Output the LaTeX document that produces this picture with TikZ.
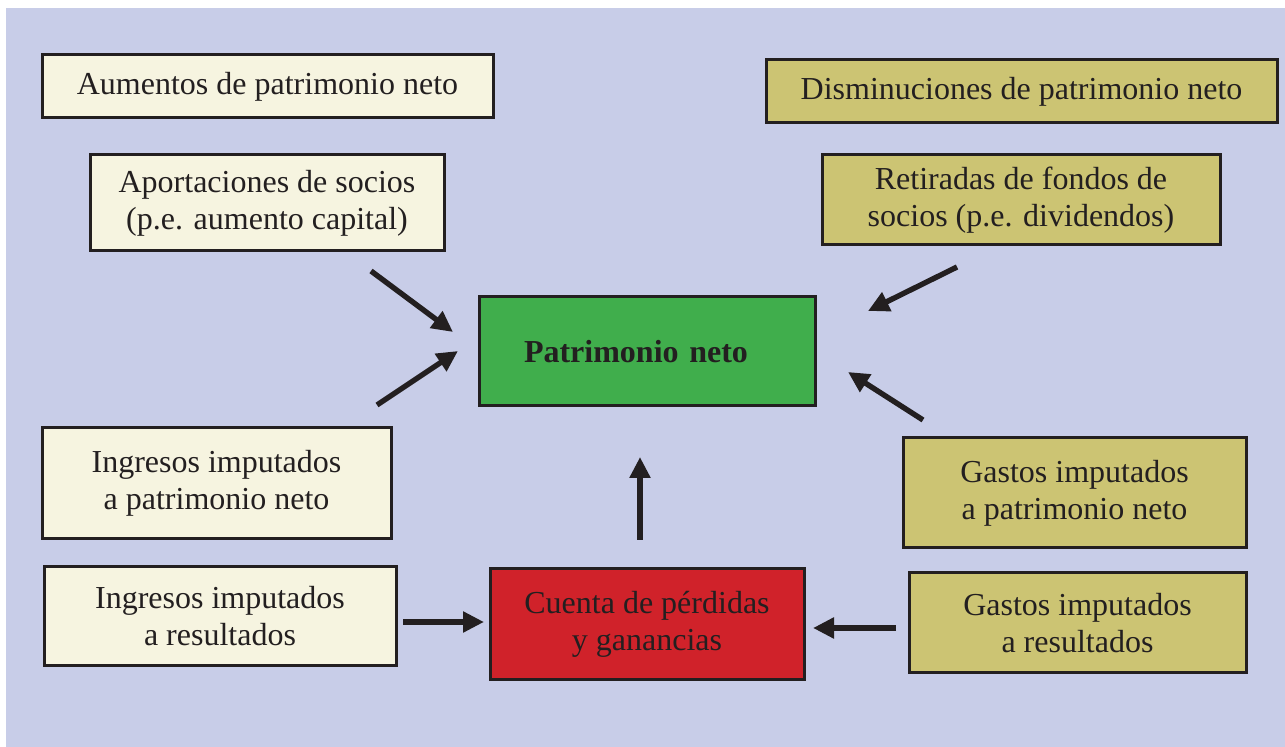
\documentclass[tikz,border=0pt]{standalone}
\usepackage{fontspec}
\setmainfont{Liberation Serif}
\usepackage{xcolor}
\usetikzlibrary{arrows.meta,positioning}
\definecolor{fondo}{RGB}{200,205,232}
\definecolor{crema}{RGB}{246,244,224}
\definecolor{oliva}{RGB}{204,196,115}
\definecolor{verde}{RGB}{64,174,76}
\definecolor{rojo}{RGB}{208,34,42}
\definecolor{tinta}{RGB}{35,31,32}

\begin{document}
\begin{tikzpicture}[x=0.5pt,y=-0.5pt,
	caja/.style={draw=tinta,line width=1.5pt,inner sep=0pt,align=center,text=tinta,font=\fontsize{16}{18.5}\selectfont},
	flecha/.style={tinta,line width=2.7pt,-{Triangle[length=10.5pt,width=10pt]}}]
		\useasboundingbox (0,0) rectangle (1285,747);
		\fill[fondo] (6,8) rectangle (1285,747);
		% aumentos (izquierda)
		\node[caja,fill=crema,minimum width=225.5pt,minimum height=31.5pt] (aum) at (267.5,86.5) {Aumentos de patrimonio neto};
		\node[caja,fill=crema,minimum width=177pt,minimum height=48pt] (apor) at (267,203) {Aportaciones de socios\\(p.e. aumento capital)};
		\node[caja,fill=crema,minimum width=174.5pt,minimum height=55.5pt] (ingpn) at (216.5,483.5) {Ingresos imputados\\a patrimonio neto};
		\node[caja,fill=crema,minimum width=176pt,minimum height=49.5pt] (ingres) at (220,616.5) {Ingresos imputados\\a resultados};
		% disminuciones (derecha)
		\node[caja,fill=oliva,minimum width=255.5pt,minimum height=31.5pt] (dism) at (1021.5,91.5) {Disminuciones de patrimonio neto};
		\node[caja,fill=oliva,minimum width=199pt,minimum height=45pt] (ret) at (1021,200) {Retiradas de fondos de\\socios (p.e. dividendos)};
		\node[caja,fill=oliva,minimum width=171.5pt,minimum height=55pt] (gaspn) at (1074.5,493) {Gastos imputados\\a patrimonio neto};
		\node[caja,fill=oliva,minimum width=168.5pt,minimum height=50pt] (gasres) at (1077.5,623) {Gastos imputados\\a resultados};
		% centro
		\node[caja,fill=verde,inner xsep=22.5pt,text width=123pt,align=left,minimum height=54.5pt,font=\fontsize{16}{18.5}\selectfont\bfseries] (pn) at (647,351.5) {Patrimonio neto};
		\node[caja,fill=rojo,minimum width=157pt,minimum height=55.5pt] (cpg) at (647,624.5) {Cuenta de p\'erdidas\\y ganancias};
		% flechas
		\coordinate (apor-a) at (371,271);   \coordinate (pn-a) at (453,332);
		\coordinate (ingpn-a) at (377,405);  \coordinate (pn-b) at (458,351);
		\coordinate (ret-a) at (957,267);    \coordinate (pn-c) at (868,311);
		\coordinate (gaspn-a) at (923,420);  \coordinate (pn-d) at (848,372);
		\coordinate (cpg-a) at (640,540);    \coordinate (pn-e) at (640,457);
		\coordinate (ingres-a) at (403,622); \coordinate (cpg-b) at (484,622);
		\coordinate (gasres-a) at (896,628); \coordinate (cpg-c) at (813,628);
		\draw[flecha] (apor-a) -- (pn-a);
		\draw[flecha] (ingpn-a) -- (pn-b);
		\draw[flecha] (ret-a) -- (pn-c);
		\draw[flecha] (gaspn-a) -- (pn-d);
		\draw[flecha] (cpg-a) -- (pn-e);
		\draw[flecha] (ingres-a) -- (cpg-b);
		\draw[flecha] (gasres-a) -- (cpg-c);
	\end{tikzpicture}
\end{document}
